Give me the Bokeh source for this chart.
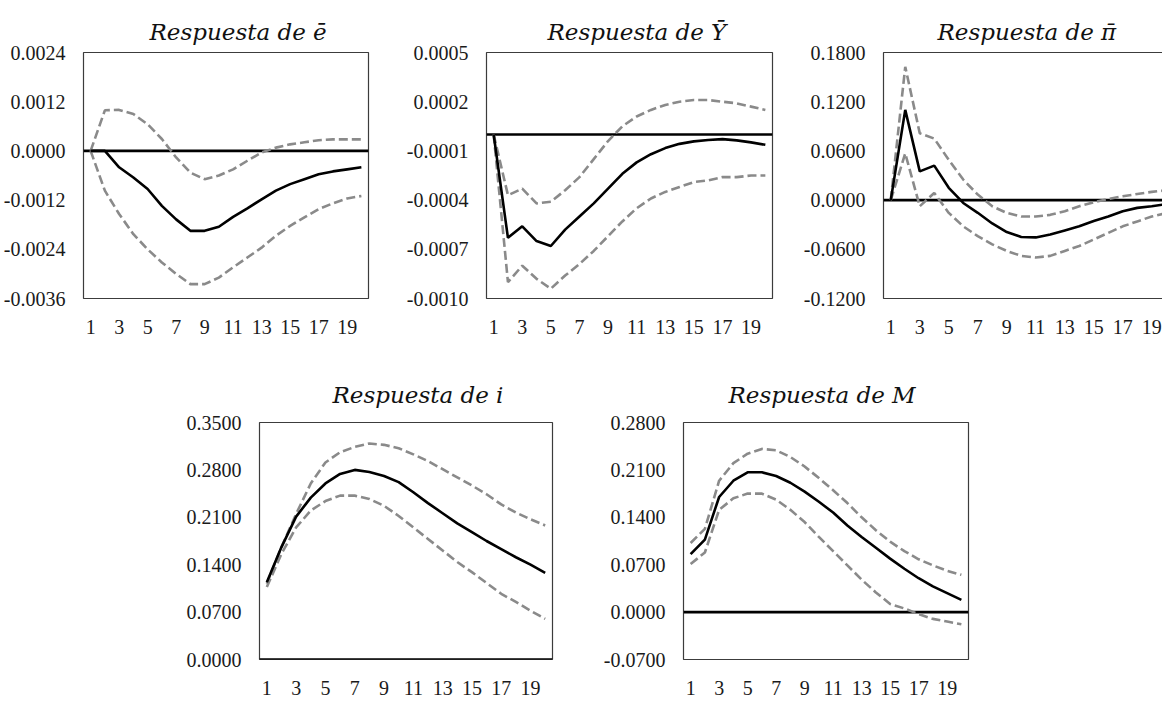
from bokeh.plotting import figure
from bokeh.layouts import row, column
from bokeh.models import Range1d, FixedTicker, NumeralTickFormatter, Span, Spacer
from bokeh.embed import file_html
from bokeh.resources import INLINE

# ---------------- data ----------------
periods = list(range(1, 21))
x_ticks = [1, 3, 5, 7, 9, 11, 13, 15, 17, 19]

titles = ["Respuesta de \u0113", "Respuesta de \u0232", "Respuesta de \u03c0\u0304",
          "Respuesta de i", "Respuesta de M"]

e_mid = [0, 0, -0.0004, -0.00065, -0.00093, -0.00134, -0.00167, -0.00195, -0.00195, -0.00185,
         -0.00161, -0.0014, -0.00118, -0.00097, -0.00081, -0.00069, -0.00057, -0.0005, -0.00045, -0.0004]
e_up = [0, 0.00099, 0.001, 0.0009, 0.00065, 0.00029, -0.00016, -0.00053, -0.00069, -0.0006,
        -0.00045, -0.00024, -0.00004, 0.00008, 0.00016, 0.00021, 0.00026, 0.00028, 0.00028, 0.00028]
e_lo = [0, -0.00097, -0.00154, -0.00203, -0.0024, -0.00272, -0.003, -0.00325, -0.00325, -0.00309,
        -0.00284, -0.0026, -0.00236, -0.00207, -0.00183, -0.00162, -0.00142, -0.00128, -0.00116, -0.0011]
e_ticks = [-0.0036, -0.0024, -0.0012, 0.0, 0.0012, 0.0024]

y_mid = [0, -0.00063, -0.00056, -0.00065, -0.00068, -0.00058, -0.0005, -0.00042, -0.00033, -0.00024,
         -0.00017, -0.00012, -0.000083, -0.000057, -0.000042, -0.000034, -0.000028, -0.000036, -0.000048, -0.000063]
y_up = [0, -0.00037, -0.00033, -0.00042, -0.00041, -0.00034, -0.00026, -0.00015, -0.00004, 0.00005,
        0.00011, 0.00015, 0.00018, 0.0002, 0.00021, 0.00021, 0.0002, 0.00019, 0.00017, 0.00015]
y_lo = [0, -0.0009, -0.0008, -0.00088, -0.00094, -0.00086, -0.00079, -0.00071, -0.00062, -0.00053,
        -0.00045, -0.00039, -0.00035, -0.00032, -0.00029, -0.00028, -0.00026, -0.00026, -0.00025, -0.00025]
y_ticks = [-0.0010, -0.0007, -0.0004, -0.0001, 0.0002, 0.0005]

pi_mid = [0, 0.11, 0.035, 0.042, 0.015, -0.0035, -0.0155, -0.0285, -0.039, -0.045,
          -0.0455, -0.042, -0.037, -0.032, -0.0255, -0.02, -0.0135, -0.0095, -0.0075, -0.005]
pi_up = [0, 0.1626, 0.0815, 0.075, 0.049, 0.025, 0.0067, -0.0075, -0.0156, -0.02,
         -0.02, -0.018, -0.0136, -0.0075, -0.0026, 0.0014, 0.0046, 0.0075, 0.01, 0.012]
pi_lo = [0, 0.057, -0.0075, 0.0087, -0.0156, -0.032, -0.044, -0.054, -0.062, -0.068,
         -0.07, -0.068, -0.062, -0.056, -0.048, -0.04, -0.032, -0.026, -0.02, -0.016]
pi_ticks = [-0.12, -0.06, 0.0, 0.06, 0.12, 0.18]

i_mid = [0.114, 0.166, 0.211, 0.239, 0.26, 0.274, 0.28, 0.277, 0.271, 0.262,
         0.247, 0.231, 0.216, 0.201, 0.188, 0.175, 0.163, 0.151, 0.14, 0.128]
i_up = [0.112, 0.166, 0.215, 0.26, 0.291, 0.306, 0.314, 0.319, 0.317, 0.312,
        0.303, 0.293, 0.281, 0.269, 0.257, 0.244, 0.229, 0.217, 0.207, 0.198]
i_lo = [0.107, 0.156, 0.195, 0.22, 0.234, 0.242, 0.242, 0.237, 0.227, 0.212,
        0.195, 0.178, 0.161, 0.144, 0.129, 0.113, 0.097, 0.085, 0.072, 0.06]
i_ticks = [0.0, 0.07, 0.14, 0.21, 0.28, 0.35]

m_mid = [0.0855, 0.107, 0.17, 0.194, 0.2065, 0.2065, 0.201, 0.191, 0.178, 0.163,
         0.147, 0.128, 0.111, 0.095, 0.079, 0.064, 0.05, 0.038, 0.028, 0.018]
m_up = [0.102, 0.123, 0.194, 0.22, 0.234, 0.241, 0.239, 0.229, 0.215, 0.198,
        0.18, 0.161, 0.14, 0.121, 0.104, 0.09, 0.078, 0.069, 0.061, 0.055]
m_lo = [0.071, 0.088, 0.151, 0.168, 0.175, 0.175, 0.166, 0.151, 0.133, 0.111,
        0.09, 0.069, 0.048, 0.029, 0.012, 0.0054, -0.003, -0.01, -0.014, -0.018]
m_ticks = [-0.07, 0.0, 0.07, 0.14, 0.21, 0.28]

# ---------------- styling ----------------
TICK_FONT = "Liberation Serif"
TITLE_FONT = "DejaVu Serif"
BAND_COLOR = "#8a8a8a"


def panel(title, mid, up, lo, yticks, width, height, bl, br, bt, bb, title_offset, title_standoff):
    p = figure(width=width, height=height, output_backend="svg", toolbar_location=None,
               x_range=Range1d(0.5, 20.5), y_range=Range1d(yticks[0], yticks[-1]),
               min_border_left=bl, min_border_right=br, min_border_top=bt, min_border_bottom=bb,
               title=title)
    p.title.align = "left"
    p.title.offset = title_offset
    p.title.text_font = TITLE_FONT
    p.title.text_font_style = "italic"
    p.title.text_font_size = "23px"
    p.title.text_color = "#111111"
    p.title.standoff = title_standoff

    p.background_fill_color = "white"
    p.border_fill_color = "white"
    p.outline_line_color = "#3c3c3c"
    p.outline_line_width = 1.2
    p.xgrid.grid_line_color = None
    p.ygrid.grid_line_color = None

    for ax in (p.xaxis[0], p.yaxis[0]):
        ax.axis_line_color = None
        ax.major_tick_line_color = None
        ax.minor_tick_line_color = None
        ax.major_tick_out = 0
        ax.major_tick_in = 0
        ax.minor_tick_out = 0
        ax.major_label_text_font = TICK_FONT
        ax.major_label_text_font_size = "20px"
        ax.major_label_text_color = "#1a1a1a"
    p.xaxis.ticker = FixedTicker(ticks=x_ticks)
    p.xaxis.major_label_standoff = 21
    p.yaxis.ticker = FixedTicker(ticks=yticks)
    p.yaxis.formatter = NumeralTickFormatter(format="0.0000")
    p.yaxis.major_label_standoff = 18

    p.add_layout(Span(location=0, dimension="width", line_color="black",
                      line_width=2.6, level="underlay"))

    p.line(periods, up, line_color=BAND_COLOR, line_width=2.6, line_dash="9 4")
    p.line(periods, lo, line_color=BAND_COLOR, line_width=2.6, line_dash="9 4")
    p.line(periods, mid, line_color="black", line_width=2.6)
    return p


# top row: frames x 82-368, 486-772, 883-(clipped) ; y 52-298
f1 = panel(titles[0], e_mid, e_up, e_lo, e_ticks, 400, 352, 82, 32, 52, 54, 66, 16)
f2 = panel(titles[1], y_mid, y_up, y_lo, y_ticks, 400, 352, 86, 28, 52, 54, 61, 16)
f3 = panel(titles[2], pi_mid, pi_up, pi_lo, pi_ticks, 390, 352, 83, 17, 52, 54, 54, 16)

# bottom row: frames x 259-552 (y 422-659), 683-968 (y 422-670)
f4 = panel(titles[3], i_mid, i_up, i_lo, i_ticks, 400, 357, 79, 28, 70, 50, 73, 30)
f5 = panel(titles[4], m_mid, m_up, m_lo, m_ticks, 410, 357, 103, 22, 70, 39, 45, 30)

top = row(f1, f2, f3, width=1162, height=352, styles={"overflow": "hidden"})
bottom = row(Spacer(width=180, height=357), f4, f5)
root = column(top, bottom)

with open("out.html", "w") as fh:
    fh.write(file_html(root, INLINE))
